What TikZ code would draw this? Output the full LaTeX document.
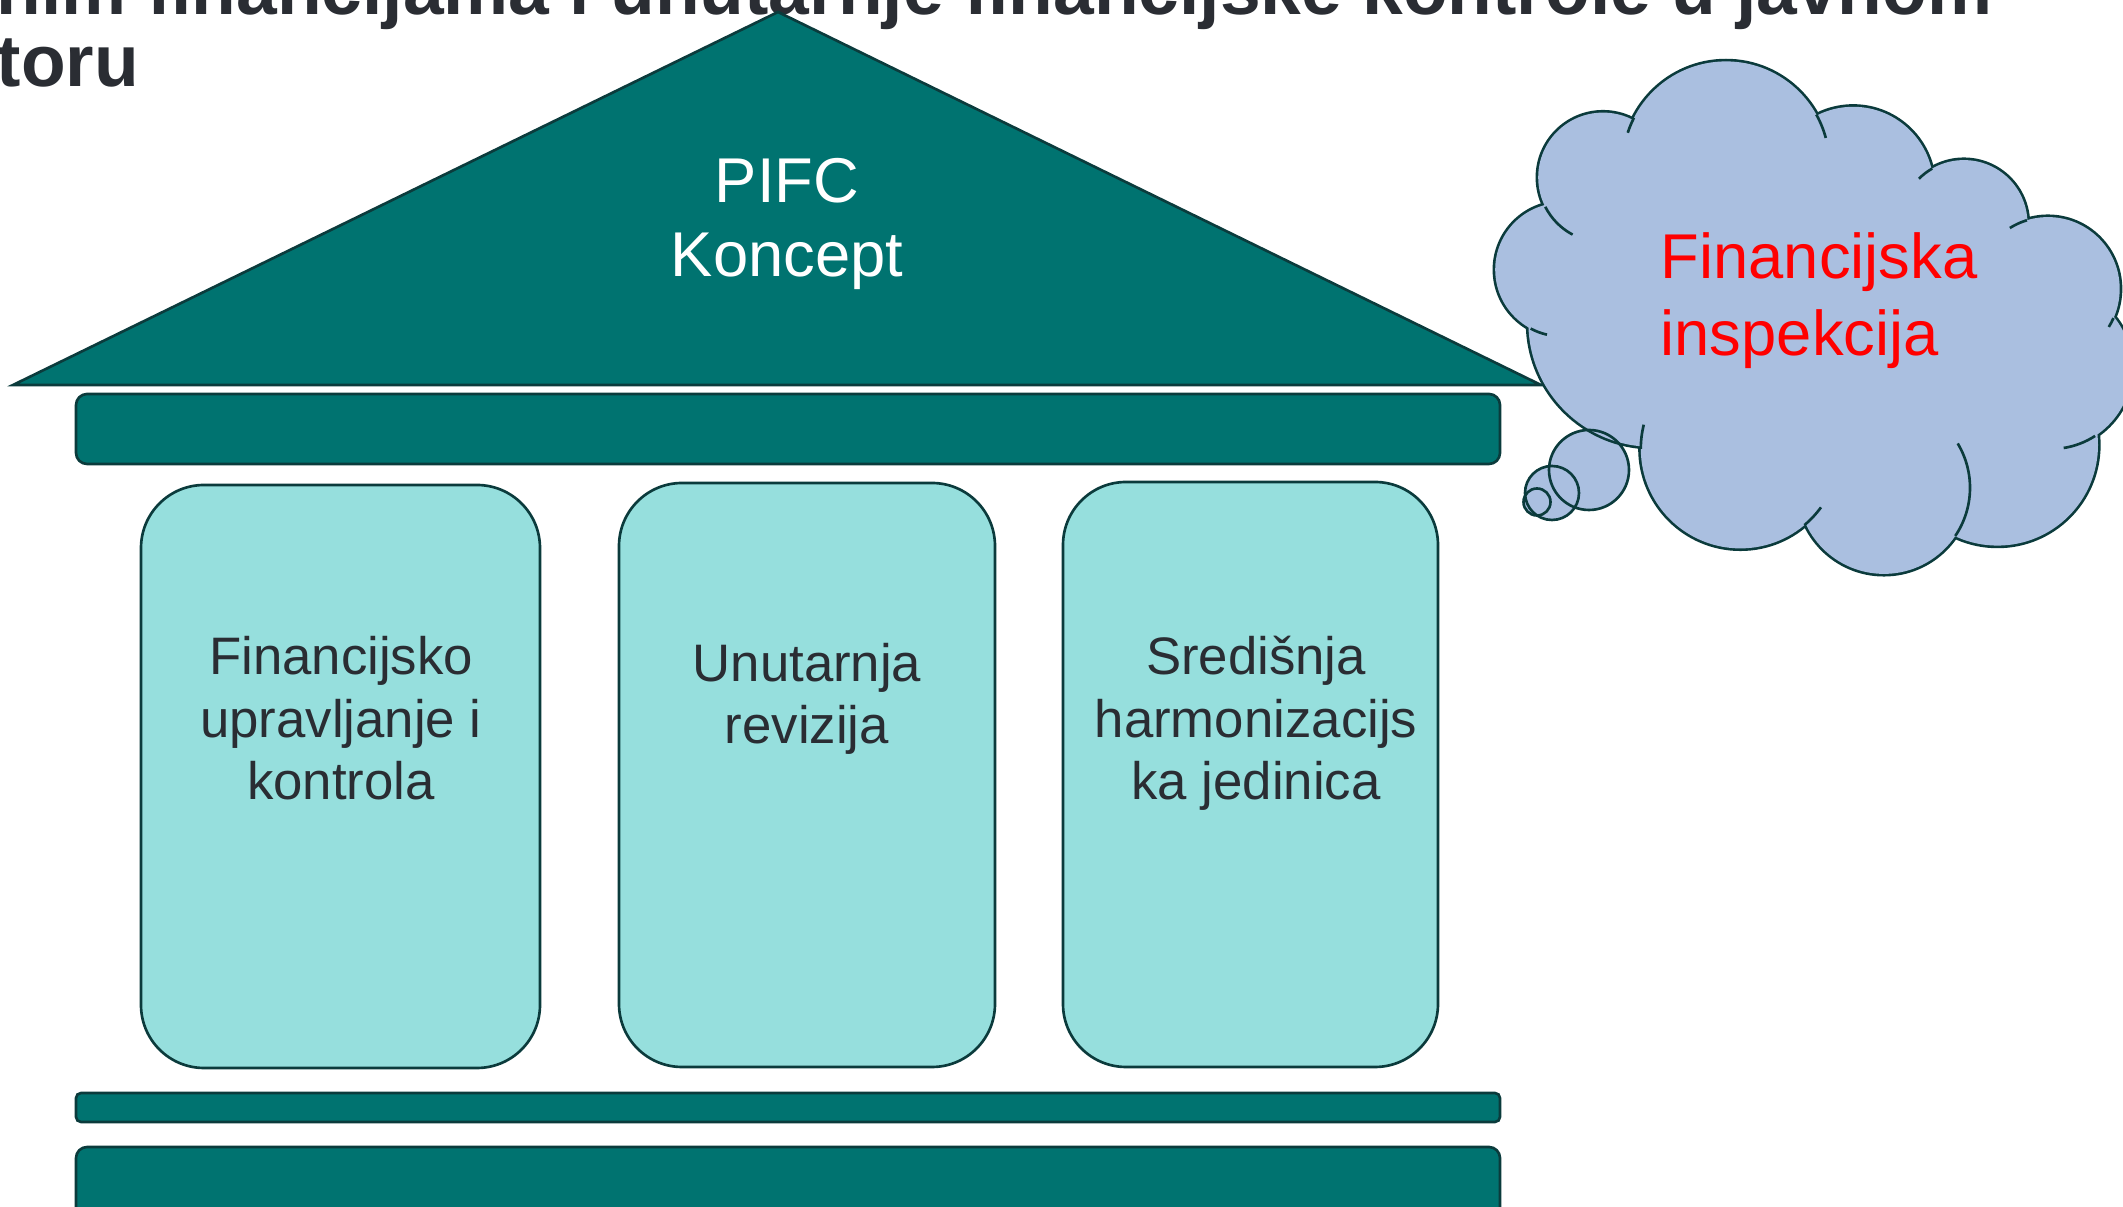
\documentclass[tikz,border=0pt]{standalone}
\usepackage{fontspec}
\setmainfont{Liberation Sans}
\definecolor{tealmain}{HTML}{007370}
\definecolor{edgec}{HTML}{0B3B3C}
\definecolor{pillc}{HTML}{96DFDD}
\definecolor{cloudc}{HTML}{AABFE0}
\definecolor{inkc}{HTML}{2A2D33}
\begin{document}
\begin{tikzpicture}[x=0.01cm,y=-0.01cm,
  tealpart/.style={fill=tealmain,draw=edgec,line width=0.75pt},
  pillar/.style={fill=pillc,draw=edgec,line width=0.75pt,rounded corners=0.63cm},
  pillartext/.style={font=\fontsize{15pt}{17.9pt}\selectfont,text=inkc,align=center,inner sep=0pt,anchor=base},
  cloudline/.style={draw=edgec,line width=0.75pt},
  bubble/.style={draw=edgec,line width=0.75pt}]
\useasboundingbox (0,0) rectangle (2123,1207);
\clip (0,0) rectangle (2123,1207);

% title (clipped at top and left); anchor is the baseline of the last line
\node[anchor=base west,inner sep=0pt,align=left,text=inkc,
      font=\bfseries\fontsize{20.8pt}{20.5pt}\selectfont] (title) at (-4,87)
      {nim financijama i unutarnje financijske kontrole u javnom\\toru};

% roof
\coordinate (roofL) at (13,385);
\coordinate (roofT) at (778,12);
\coordinate (roofR) at (1541,385);
\draw[tealpart] (roofL) -- (roofT) -- (roofR) -- cycle;
\node[anchor=base,inner sep=0pt,align=center,text=white,
      font=\fontsize{18pt}{21.05pt}\selectfont] (pifc) at (787,277) {PIFC\\Koncept};

% bars
\draw[tealpart,rounded corners=0.11cm] (76,394) rectangle (1500,464);
\draw[tealpart,rounded corners=0.05cm] (76,1093) rectangle (1500,1122);
\draw[tealpart,rounded corners=0.11cm] (76,1147) rectangle (1500,1320);

% pillars
\draw[pillar] (141,485) rectangle (540,1068);
\draw[pillar] (619,483) rectangle (995,1067);
\draw[pillar] (1063,482) rectangle (1438,1067);
\node[pillartext] (t1) at (341,800) {Financijsko\\upravljanje i\\kontrola};
\node[pillartext] (t2) at (807,744) {Unutarnja\\revizija};
\node[pillartext] (t3) at (1256,800) {Središnja\\harmonizacijs\\ka jedinica};

% thought bubbles (fill)
\coordinate (b1) at (1589,470);
\coordinate (b2) at (1552,493);
\coordinate (b3) at (1537,502);
\fill[cloudc] (b1) circle[radius=40];
\fill[cloudc] (b2) circle[radius=27];
\fill[cloudc] (b3) circle[radius=13.5];

% cloud
\coordinate (cA) at (1562.0,269.6);
\coordinate (cB) at (1603.0,177.4);
\coordinate (cC) at (1726.0,164.7);
\coordinate (cD) at (1853.2,187.2);
\coordinate (cE) at (1963.9,223.7);
\coordinate (cF) at (2047.9,288.9);
\coordinate (cG) at (2051.0,368.0);
\coordinate (cH) at (1997.5,445.1);
\coordinate (cI) at (1883.9,487.8);
\coordinate (cJ) at (1740.4,448.8);
\coordinate (cK) at (1652.2,323.0);
\foreach \c/\r in {cA/66.8,cB/64.8,cC/103.3,cD/80.4,cE/63.6,cF/71.8,cG/81,cH/100.5,cI/86.1,cJ/99.6,cK/123.8}
  \draw[fill=cloudc,draw=edgec,line width=1.5pt] (\c) circle[radius=\r];
\fill[cloudc] (cA) -- (cB) -- (cC) -- (cD) -- (cE) -- (cF) -- (cG) -- (cH) -- (cI) -- (cJ) -- (cK) -- cycle;
\foreach \c/\r in {cA/66.8,cB/64.8,cC/103.3,cD/80.4,cE/63.6,cF/71.8,cG/81,cH/100.5,cI/86.1,cJ/99.6,cK/123.8}
  \fill[cloudc] (\c) circle[radius=\r];
% inner strokes of the cloud
\foreach \c/\r/\a/\b in {cB/64.8/118/153, cC/103.3/198/207, cC/103.3/-29/-15,
    cE/63.6/225/240, cF/71.8/238/253, cF/71.8/24/32, cG/81/57/81,
    cI/86.1/-31/34, cJ/99.6/36/50, cJ/99.6/180/194, cA/66.8/103/118}
  \draw[cloudline] (\c) ++(\a:\r) arc[start angle=\a, end angle=\b, radius=\r];

\node[anchor=base west,inner sep=0pt,align=left,text=red,
      font=\fontsize{18pt}{21.9pt}\selectfont] (fi) at (1660,356) {Financijska\\inspekcija};

% bubble outlines
\draw[bubble] (b1) circle[radius=40];
\draw[bubble] (b2) circle[radius=27];
\draw[bubble] (b3) circle[radius=13.5];
\end{tikzpicture}
\end{document}
